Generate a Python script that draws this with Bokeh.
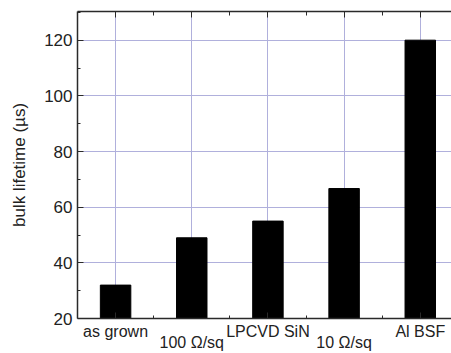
from bokeh.plotting import figure
from bokeh.models import FixedTicker, LinearAxis, Range1d
from bokeh.embed import file_html
from bokeh.resources import INLINE

categories = ["as grown", "100 Ω/sq", "LPCVD SiN", "10 Ω/sq", "Al BSF"]
lifetimes = [32, 49, 55, 66.7, 120]
y_ticks = [20, 40, 60, 80, 100, 120]
y_minor = [30, 50, 70, 90, 110, 130]

xpos = list(range(1, len(categories) + 1))
x_minor = [i + 0.5 for i in xpos[:-1]]

FONT = "Liberation Sans"
AX = "#2a2a2a"
TXT = "#222222"
GRID = "#b0b0dc"

p = figure(width=451, height=353, output_backend="svg", toolbar_location=None,
           x_range=Range1d(0.5, 5.41), y_range=Range1d(20, 130.3),
           min_border_left=77, min_border_right=0, min_border_top=11,
           min_border_bottom=34)
p.outline_line_color = None
p.background_fill_color = "white"
p.border_fill_color = "white"

p.vbar(x=xpos, top=lifetimes, bottom=0, width=0.4, color="black")

all_t = FixedTicker(ticks=xpos, minor_ticks=x_minor)
row1_x = xpos[0::2]
row2_x = xpos[1::2]
bot_t = FixedTicker(ticks=row1_x, minor_ticks=x_minor)
row2_t = FixedTicker(ticks=row2_x, minor_ticks=[])
yt = FixedTicker(ticks=y_ticks, minor_ticks=y_minor)

xa = p.xaxis[0]
xa.ticker = bot_t
xa.major_label_overrides = {x: categories[x - 1] for x in row1_x}
ya = p.yaxis[0]
ya.ticker = yt
ya.axis_label = "bulk lifetime (µs)"

for ax in (xa, ya):
    ax.axis_line_color = AX
    ax.axis_line_width = 1.5
    ax.major_tick_line_color = AX
    ax.minor_tick_line_color = AX
    ax.major_tick_in = 6
    ax.major_tick_out = 0
    ax.minor_tick_in = 3
    ax.minor_tick_out = 0
    ax.major_label_text_font = FONT
    ax.major_label_text_color = TXT
    ax.major_label_standoff = 5

xa.major_label_standoff = 4
xa.major_label_text_font_size = "16px"
ya.major_label_text_font_size = "17px"
ya.axis_label_text_font = FONT
ya.axis_label_text_font_size = "17px"
ya.axis_label_text_font_style = "normal"
ya.axis_label_text_color = TXT
ya.axis_label_standoff = 12

row2 = LinearAxis(ticker=row2_t,
                  major_label_overrides={x: categories[x - 1] for x in row2_x},
                  major_label_text_font=FONT, major_label_text_font_size="16px",
                  major_label_text_color=TXT, major_label_standoff=-9,
                  axis_line_color=None, major_tick_line_color=None,
                  minor_tick_line_color=None, major_tick_in=0, major_tick_out=0,
                  minor_tick_in=0, minor_tick_out=0)
p.add_layout(row2, "below")

top = LinearAxis(ticker=all_t, major_label_text_font_size="1px",
                 major_label_text_color=None,
                 major_tick_in=6, major_tick_out=0, minor_tick_in=4, minor_tick_out=0,
                 axis_line_color=AX, axis_line_width=1.5,
                 major_tick_line_color=AX, minor_tick_line_color=AX,
                 major_label_standoff=0)
p.add_layout(top, "above")

p.xgrid.ticker = all_t
p.ygrid.ticker = yt
p.xgrid.grid_line_color = GRID
p.ygrid.grid_line_color = GRID
p.xgrid.grid_line_width = 1
p.ygrid.grid_line_width = 1

open("out.html", "w").write(file_html(p, INLINE))
